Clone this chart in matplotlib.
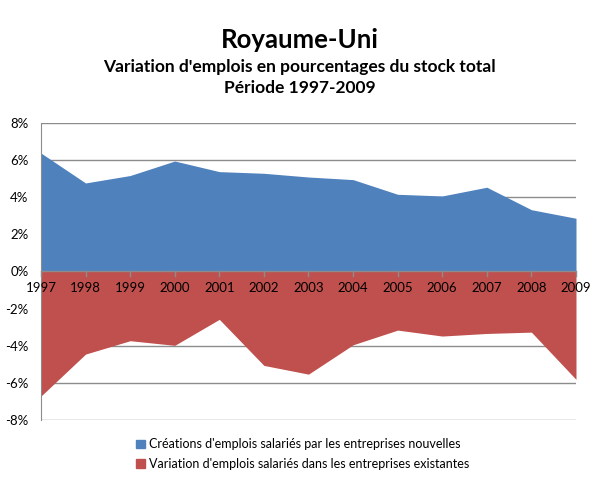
import numpy as np
import matplotlib.pyplot as plt
from matplotlib.patches import Patch

plt.rcParams['font.family'] = ['Lato', 'DejaVu Sans']

years = [1997, 1998, 1999, 2000, 2001, 2002, 2003, 2004, 2005, 2006, 2007, 2008, 2009]
creations = [6.37, 4.76, 5.16, 5.94, 5.37, 5.28, 5.08, 4.94, 4.15, 4.06, 4.53, 3.32, 2.86]
variation = [-6.71, -4.45, -3.73, -3.98, -2.58, -5.06, -5.53, -3.95, -3.16, -3.48, -3.34, -3.27, -5.81]

blue = '#4F81BD'
red = '#C0504D'

fig = plt.figure(figsize=(5.99, 4.93), dpi=100)
ax = fig.add_axes([0.0684, 0.148, 0.8932, 0.603])

x = np.arange(len(years))
ax.fill_between(x, 0, creations, color=blue, linewidth=0, zorder=2)
ax.fill_between(x, 0, variation, color=red, linewidth=0, zorder=2)

ax.set_xlim(0, len(years) - 1)
ax.set_ylim(-8, 8)
ax.set_yticks(range(-8, 9, 2))
ax.set_yticklabels([f'{v}%' for v in range(-8, 9, 2)], fontsize=9.5)
ax.yaxis.grid(True, color='#8c8c8c', linewidth=1, zorder=1)
ax.set_axisbelow(True)
ax.tick_params(axis='y', length=0, pad=9)

for s in ['top', 'right', 'bottom']:
    ax.spines[s].set_visible(False)
ax.spines['left'].set_color('#8c8c8c')

# category axis at zero
ax.axhline(0, color='#8c8c8c', linewidth=1, zorder=3)
ax.set_xticks([])
for i, yr in enumerate(years):
    ax.plot([i, i], [0, -0.25], color='#8c8c8c', linewidth=1, zorder=3, clip_on=False)
    ax.text(i, -0.55, str(yr), ha='center', va='top', fontsize=9.5, zorder=4)

fig.text(0.5, 0.918, 'Royaume-Uni', ha='center', va='center', fontsize=18.5, fontweight='bold')
fig.text(0.5, 0.864, "Variation d'emplois en pourcentages du stock total", ha='center', va='center',
         fontsize=12.5, fontweight='bold')
fig.text(0.5, 0.821, 'Période 1997-2009', ha='center', va='center', fontsize=12.5, fontweight='bold')

handles = [Patch(color=blue), Patch(color=red)]
labels = ["Créations d'emplois salariés par les entreprises nouvelles",
          "Variation d'emplois salariés dans les entreprises existantes"]
fig.legend(handles, labels, loc='center', bbox_to_anchor=(0.505, 0.079), frameon=False, fontsize=9,
           handlelength=0.7, handleheight=0.7, handletextpad=0.3, labelspacing=0.6)

fig.savefig('out.png', dpi=100)
